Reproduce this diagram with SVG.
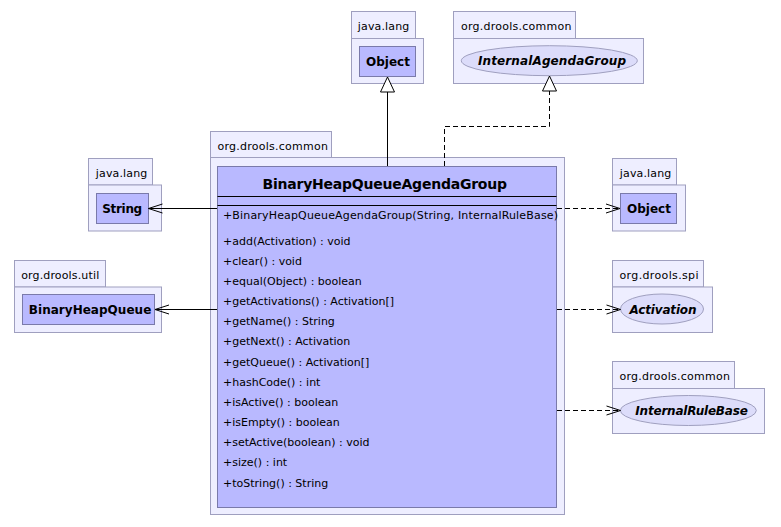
<svg xmlns="http://www.w3.org/2000/svg" width="781" height="527" viewBox="0 0 781 527">
<style>
  .pkg { fill: #eeeeff; stroke: #9f9fbf; stroke-width: 1; }
  .cls { fill: #b9b9ff; stroke: #7a7aaa; stroke-width: 1; }
  .ifc { fill: #dcdcfa; stroke: #9f9fbf; stroke-width: 1; }
  .plabel { font-family: "DejaVu Sans", sans-serif; font-size: 11px; fill: #000; }
  .cname { font-family: "DejaVu Sans", sans-serif; font-size: 12px; font-weight: bold; fill: #000; }
  .iname { font-family: "DejaVu Sans", sans-serif; font-size: 12px; font-weight: bold; font-style: italic; fill: #000; }
  .title { font-family: "DejaVu Sans", sans-serif; font-size: 14px; font-weight: bold; fill: #000; }
  .member { font-family: "DejaVu Sans", sans-serif; font-size: 11px; fill: #000; }
  .edge { fill: none; stroke: #000; stroke-width: 1; }
  .dashed { stroke-dasharray: 5,3; }
</style>
<defs>
  <marker id="open" viewBox="-15 -6 16 12" refX="0" refY="0" markerWidth="16" markerHeight="12" markerUnits="userSpaceOnUse" orient="auto">
    <path d="M-14,-4.5 L0,0 L-14,4.5" fill="none" stroke="#000" stroke-width="1" stroke-dasharray="none"/>
  </marker>
  <marker id="tri" viewBox="-16 -8 17 16" refX="0" refY="0" markerWidth="17" markerHeight="16" markerUnits="userSpaceOnUse" orient="auto">
    <path d="M-15,-7 L0,0 L-15,7 Z" fill="#fff" stroke="#000" stroke-width="1" stroke-dasharray="none"/>
  </marker>
</defs>

<g id="pkg-main">
  <rect class="pkg" x="210.5" y="131.5" width="121" height="26"/>
  <rect class="pkg" x="210.5" y="157.5" width="354" height="357"/>
  <text class="plabel" x="217.5" y="149.5" textLength="110.5" lengthAdjust="spacing">org.drools.common</text>
</g>

<g id="BinaryHeapQueueAgendaGroup">
  <rect class="cls" x="217.5" y="166.5" width="339" height="341"/>
  <text class="title" x="262.5" y="189" textLength="244.5" lengthAdjust="spacing">BinaryHeapQueueAgendaGroup</text>
  <line x1="217.5" y1="196.5" x2="556.5" y2="196.5" stroke="#000"/>
  <line x1="217.5" y1="205.5" x2="556.5" y2="205.5" stroke="#000"/>
  <text class="member" x="223" y="219" textLength="335" lengthAdjust="spacing">+BinaryHeapQueueAgendaGroup(String, InternalRuleBase)</text>
  <text class="member" x="223" y="244.5">+add(Activation) : void</text>
  <text class="member" x="223" y="264.7">+clear() : void</text>
  <text class="member" x="223" y="284.8">+equal(Object) : boolean</text>
  <text class="member" x="223" y="305">+getActivations() : Activation[]</text>
  <text class="member" x="223" y="325.2">+getName() : String</text>
  <text class="member" x="223" y="345.4">+getNext() : Activation</text>
  <text class="member" x="223" y="365.5">+getQueue() : Activation[]</text>
  <text class="member" x="223" y="385.7">+hashCode() : int</text>
  <text class="member" x="223" y="405.9">+isActive() : boolean</text>
  <text class="member" x="223" y="426">+isEmpty() : boolean</text>
  <text class="member" x="223" y="446.2">+setActive(boolean) : void</text>
  <text class="member" x="223" y="466.4">+size() : int</text>
  <text class="member" x="223" y="486.5">+toString() : String</text>
</g>

<g id="pkg-java-lang-top">
  <rect class="pkg" x="351.5" y="11.5" width="64" height="27"/>
  <rect class="pkg" x="351.5" y="38.5" width="72" height="45"/>
  <text class="plabel" x="357.8" y="29.5" textLength="51.5" lengthAdjust="spacing">java.lang</text>
</g>
<g id="Object-top">
  <rect class="cls" x="359.5" y="46.5" width="56" height="30"/>
  <text class="cname" x="366" y="65.5" textLength="44" lengthAdjust="spacing">Object</text>
</g>

<g id="pkg-common-top">
  <rect class="pkg" x="453.5" y="11.5" width="122" height="27"/>
  <rect class="pkg" x="453.5" y="38.5" width="190" height="45"/>
  <text class="plabel" x="461" y="29.5" textLength="110.5" lengthAdjust="spacing">org.drools.common</text>
</g>
<g id="InternalAgendaGroup">
  <ellipse class="ifc" cx="549.3" cy="60.7" rx="88" ry="15"/>
  <text class="iname" x="478" y="65" textLength="148" lengthAdjust="spacing">InternalAgendaGroup</text>
</g>

<g id="pkg-java-lang-left">
  <rect class="pkg" x="88.5" y="158.5" width="64" height="26.5"/>
  <rect class="pkg" x="88.5" y="185" width="73" height="46"/>
  <text class="plabel" x="95.8" y="177" textLength="51.5" lengthAdjust="spacing">java.lang</text>
</g>
<g id="String">
  <rect class="cls" x="96.5" y="193.5" width="52" height="30"/>
  <text class="cname" x="102.2" y="212.5" textLength="40" lengthAdjust="spacing">String</text>
</g>

<g id="pkg-util">
  <rect class="pkg" x="14.5" y="260.5" width="91" height="26.5"/>
  <rect class="pkg" x="14.5" y="287" width="147" height="45.5"/>
  <text class="plabel" x="21.2" y="279" textLength="78" lengthAdjust="spacing">org.drools.util</text>
</g>
<g id="BinaryHeapQueue">
  <rect class="cls" x="22.5" y="294.5" width="132" height="30"/>
  <text class="cname" x="28.8" y="313.5" textLength="122.5" lengthAdjust="spacing">BinaryHeapQueue</text>
</g>

<g id="pkg-java-lang-right">
  <rect class="pkg" x="612.5" y="158.5" width="64" height="26.5"/>
  <rect class="pkg" x="612.5" y="185" width="73" height="46"/>
  <text class="plabel" x="619.8" y="177" textLength="51.5" lengthAdjust="spacing">java.lang</text>
</g>
<g id="Object-right">
  <rect class="cls" x="620.5" y="193.5" width="56" height="30"/>
  <text class="cname" x="627" y="212.5" textLength="44" lengthAdjust="spacing">Object</text>
</g>

<g id="pkg-spi">
  <rect class="pkg" x="612.5" y="260.5" width="91" height="26.5"/>
  <rect class="pkg" x="612.5" y="287" width="100" height="45.5"/>
  <text class="plabel" x="619.5" y="279" textLength="79" lengthAdjust="spacing">org.drools.spi</text>
</g>
<g id="Activation">
  <ellipse class="ifc" cx="662" cy="309" rx="41.5" ry="15"/>
  <text class="iname" x="629.5" y="313.5" textLength="67" lengthAdjust="spacing">Activation</text>
</g>

<g id="pkg-common-right">
  <rect class="pkg" x="612.5" y="361.5" width="122" height="27"/>
  <rect class="pkg" x="612.5" y="388.5" width="152" height="45"/>
  <text class="plabel" x="619.5" y="380" textLength="110.5" lengthAdjust="spacing">org.drools.common</text>
</g>
<g id="InternalRuleBase">
  <ellipse class="ifc" cx="688.3" cy="410.5" rx="68" ry="15"/>
  <text class="iname" x="635.3" y="415" textLength="112.5" lengthAdjust="spacing">InternalRuleBase</text>
</g>

<g id="connectors">
  <path class="edge" d="M387.5,166 V77" marker-end="url(#tri)"/>
  <path class="edge dashed" d="M444.5,166 V126.5 H549.5 V76" marker-end="url(#tri)"/>
  <path class="edge" d="M217,208.5 H148.5" marker-end="url(#open)"/>
  <path class="edge" d="M217,309.5 H155" marker-end="url(#open)"/>
  <path class="edge dashed" d="M557,208.5 H620" marker-end="url(#open)"/>
  <path class="edge dashed" d="M557,309.5 H620.5" marker-end="url(#open)"/>
  <path class="edge dashed" d="M557,410.5 H620.5" marker-end="url(#open)"/>
</g>
</svg>
